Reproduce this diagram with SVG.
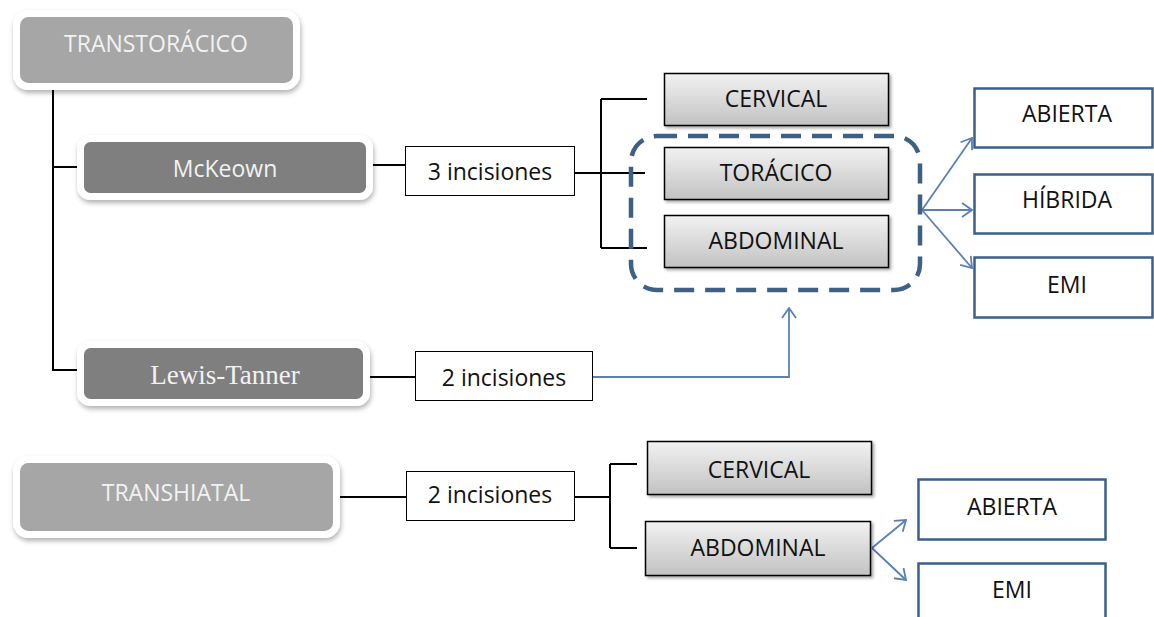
<svg xmlns="http://www.w3.org/2000/svg" width="1154" height="617" viewBox="0 0 1154 617">
<defs>
<style>
.t{font-family:"Open Sans","Liberation Sans",sans-serif;font-size:23px;text-anchor:middle;fill:#111}
.tw{font-family:"Open Sans","Liberation Sans",sans-serif;font-size:23px;text-anchor:middle;fill:#f2f2f2}
.ts{font-family:"Liberation Serif","Times New Roman",serif;font-size:27px;text-anchor:middle;fill:#f2f2f2}
.main{stroke:#fff;stroke-width:7}
.lt{fill:#a6a6a6}
.dk{fill:#7f7f7f}
.gb{fill:url(#g);stroke:#000;stroke-width:1.5}
.ib{fill:#fff;stroke:#000;stroke-width:1}
.bb{fill:#fff;stroke:#3c5f8a;stroke-width:2.5}
.k{stroke:#000;stroke-width:2;fill:none}
.b{stroke:#5a80b5;stroke-width:1.8;fill:none}
</style>
<linearGradient id="g" x1="0" y1="0" x2="0" y2="1">
<stop offset="0" stop-color="#f2f2f2"/>
<stop offset="1" stop-color="#c2c2c2"/>
</linearGradient>
<filter id="sh" x="-10%" y="-20%" width="120%" height="150%">
<feDropShadow dx="1" dy="3" stdDeviation="2.5" flood-color="#000" flood-opacity="0.3"/>
</filter>
<filter id="sh2" x="-10%" y="-20%" width="120%" height="150%">
<feDropShadow dx="2" dy="2" stdDeviation="1.5" flood-color="#000" flood-opacity="0.35"/>
</filter>
<marker id="ar" viewBox="0 0 12 16" refX="11" refY="8" markerWidth="12" markerHeight="16" markerUnits="userSpaceOnUse" orient="auto">
<path d="M1,1 L11,8 L1,15" fill="none" stroke="#5a80b5" stroke-width="1.8"/>
</marker>
</defs>

<g id="connectors">
<path class="k" d="M53,90 V370 H78 M53,167 H78"/>
<path class="k" d="M372,165 H405"/>
<path class="k" d="M575,173 H645 M601,99 V248 M601,99 H647 M601,248 H647"/>
<path class="k" d="M348,377 H415"/>
<path class="b" d="M592,377 H789 V308" marker-end="url(#ar)"/>
<path class="b" d="M922,210 L972,138" marker-end="url(#ar)"/>
<path class="b" d="M922,210 L972,210" marker-end="url(#ar)"/>
<path class="b" d="M922,210 L972,268" marker-end="url(#ar)"/>
<path class="k" d="M340,497 H406 M575,497 H610 M610,464 V548 M610,464 H637 M610,548 H637"/>
<path class="b" d="M872,548 L906,520" marker-end="url(#ar)"/>
<path class="b" d="M872,548 L906,580" marker-end="url(#ar)"/>
</g>

<g id="group-box">
<rect x="631" y="136" width="289" height="154" rx="26" fill="none" stroke="#3e5f86" stroke-width="4.5" stroke-dasharray="20 11"/>
</g>

<g id="transtoracico">
<rect class="main lt" x="16.5" y="13.5" width="280" height="73" rx="12" filter="url(#sh)"/>
<text class="tw" x="156" y="52">TRANSTORÁCICO</text>
</g>

<g id="mckeown">
<rect class="main dk" x="80.5" y="138.5" width="289" height="58" rx="10" filter="url(#sh)"/>
<text class="tw" x="225" y="177">McKeown</text>
</g>

<g id="inc3">
<rect class="ib" x="405.5" y="146.5" width="169" height="49"/>
<text class="t" x="490" y="180">3 incisiones</text>
</g>

<g id="cervical1">
<rect class="gb" x="664.5" y="73.5" width="224" height="52" filter="url(#sh2)"/>
<text class="t" x="776" y="107">CERVICAL</text>
</g>
<g id="toracico">
<rect class="gb" x="664.5" y="147.5" width="224" height="52" filter="url(#sh2)"/>
<text class="t" x="776" y="181">TORÁCICO</text>
</g>
<g id="abdominal1">
<rect class="gb" x="664.5" y="215.5" width="224" height="52" filter="url(#sh2)"/>
<text class="t" x="776" y="249">ABDOMINAL</text>
</g>

<g id="abierta1">
<rect class="bb" x="974.5" y="88.5" width="178" height="59"/>
<text class="t" x="1067" y="122">ABIERTA</text>
</g>
<g id="hibrida">
<rect class="bb" x="974.5" y="174.5" width="178" height="59"/>
<text class="t" x="1067" y="208">HÍBRIDA</text>
</g>
<g id="emi1">
<rect class="bb" x="974.5" y="257.5" width="178" height="60"/>
<text class="t" x="1067" y="293">EMI</text>
</g>

<g id="lewis-tanner">
<rect class="main dk" x="80.5" y="344.5" width="286" height="58" rx="10" filter="url(#sh)"/>
<text class="ts" x="225" y="384">Lewis-Tanner</text>
</g>

<g id="inc2a">
<rect class="ib" x="415.5" y="351.5" width="177" height="49"/>
<text class="t" x="504" y="386">2 incisiones</text>
</g>

<g id="transhiatal">
<rect class="main lt" x="16.5" y="459.5" width="320" height="75" rx="12" filter="url(#sh)"/>
<text class="tw" x="176" y="501">TRANSHIATAL</text>
</g>

<g id="inc2b">
<rect class="ib" x="406.5" y="471.5" width="168" height="49"/>
<text class="t" x="490" y="503">2 incisiones</text>
</g>

<g id="cervical2">
<rect class="gb" x="647.5" y="441.5" width="224" height="53" filter="url(#sh2)"/>
<text class="t" x="759" y="478">CERVICAL</text>
</g>
<g id="abdominal2">
<rect class="gb" x="645.5" y="521.5" width="225" height="54" filter="url(#sh2)"/>
<text class="t" x="758" y="556">ABDOMINAL</text>
</g>

<g id="abierta2">
<rect class="bb" x="918.5" y="479.5" width="187" height="60"/>
<text class="t" x="1012" y="515">ABIERTA</text>
</g>
<g id="emi2">
<rect class="bb" x="918.5" y="563.5" width="187" height="70"/>
<text class="t" x="1012" y="598">EMI</text>
</g>
</svg>
